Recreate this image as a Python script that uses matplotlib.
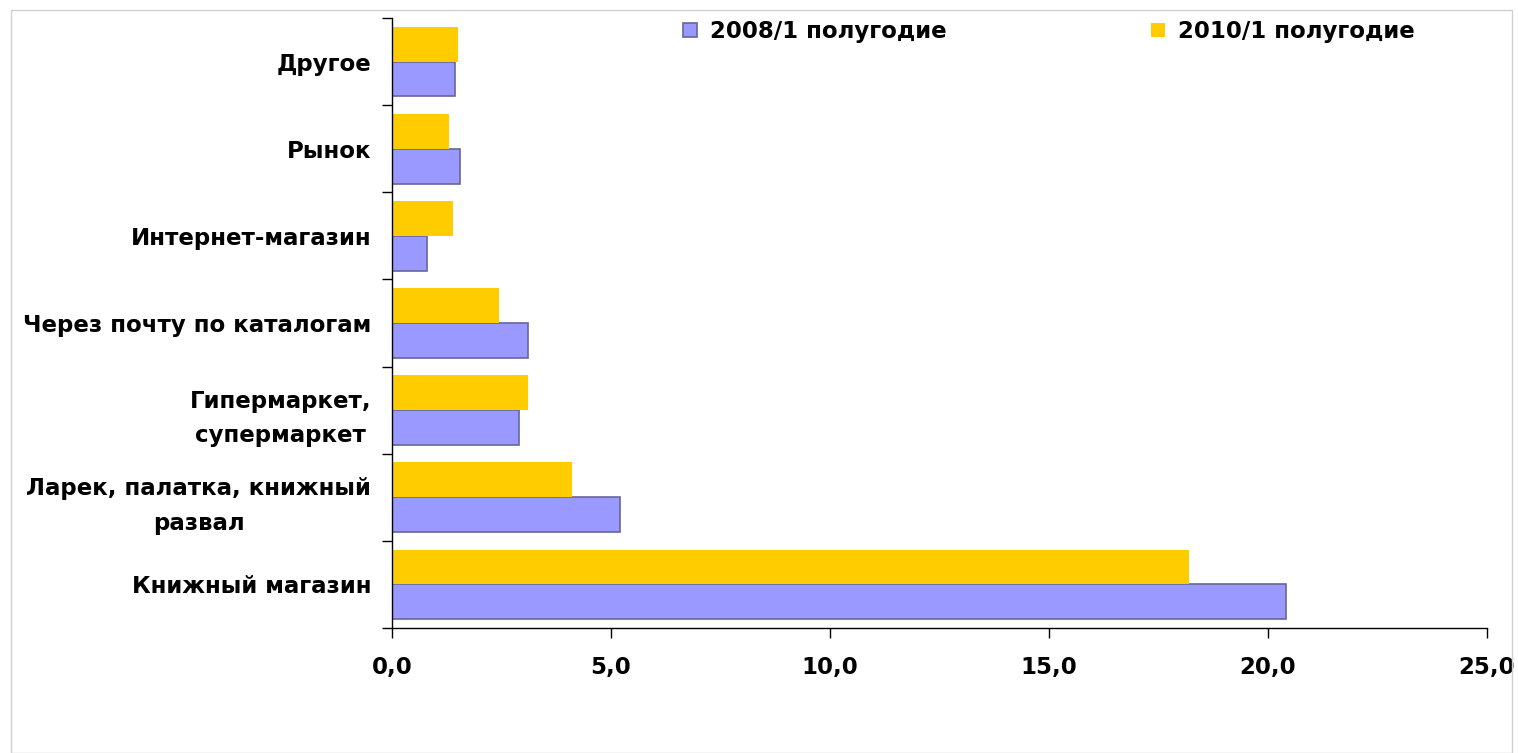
import numpy as np
import matplotlib
matplotlib.use('Agg')
import matplotlib.pyplot as plt
from matplotlib.patches import Rectangle

# data (bottom to top, as drawn)
categories = ['Книжный магазин', 'Ларек, палатка, книжный\nразвал', 'Гипермаркет,\nсупермаркет',
              'Через почту по каталогам', 'Интернет-магазин', 'Рынок', 'Другое']
values_2008 = [20.4, 5.2, 2.9, 3.1, 0.8, 1.55, 1.45]
values_2010 = [18.2, 4.1, 3.1, 2.45, 1.4, 1.3, 1.5]
xticks = [0, 5, 10, 15, 20, 25]
xtick_labels = ['0,0', '5,0', '10,0', '15,0', '20,0', '25,0']

plt.rcParams['font.family'] = ['DejaVu Sans']
plt.rcParams['font.weight'] = 'bold'

fig = plt.figure(figsize=(15.18, 7.53), dpi=100)
ax = fig.add_axes([0.2582, 0.166, 0.7214, 0.810])

# light frame around the chart area
fig.patches.append(Rectangle((0.007, 0.0), 0.989, 0.987, transform=fig.transFigure,
                             fill=False, edgecolor='#d0d0d0', linewidth=1))

y = np.arange(len(categories))
h = 0.40
ax.barh(y - h / 2, values_2008, height=h, color='#9999ff', edgecolor='#666699',
        linewidth=1.2, label='2008/1 полугодие')
ax.barh(y + h / 2, values_2010, height=h, color='#ffcc00', label='2010/1 полугодие')

ax.set_xlim(0, 25)
ax.set_ylim(-0.5, len(categories) - 0.5)
ax.set_xticks(xticks)
ax.set_xticklabels(xtick_labels, fontsize=16.5, fontweight='bold')
ax.set_yticks(y)
ax.set_yticklabels(categories, fontsize=16.5, fontweight='bold', multialignment='center',
                   linespacing=1.65)
ax.set_yticks(np.arange(-0.5, len(categories), 1), minor=True)
ax.tick_params(axis='y', which='major', length=0, pad=15)
ax.tick_params(axis='y', which='minor', length=7, direction='out', width=1)
ax.tick_params(axis='x', length=7, direction='out', width=1, pad=13)

for s in ['top', 'right']:
    ax.spines[s].set_visible(False)
for s in ['left', 'bottom']:
    ax.spines[s].set_color('black')
    ax.spines[s].set_linewidth(1)

handles, labels = ax.get_legend_handles_labels()
leg = ax.legend(handles, labels, loc='center', bbox_to_anchor=(0.600, 0.978), ncol=2,
                frameon=False, fontsize=16.5, handlelength=0.6, handleheight=0.6,
                columnspacing=8.9, handletextpad=0.6)

fig.savefig('out.png', dpi=100)
